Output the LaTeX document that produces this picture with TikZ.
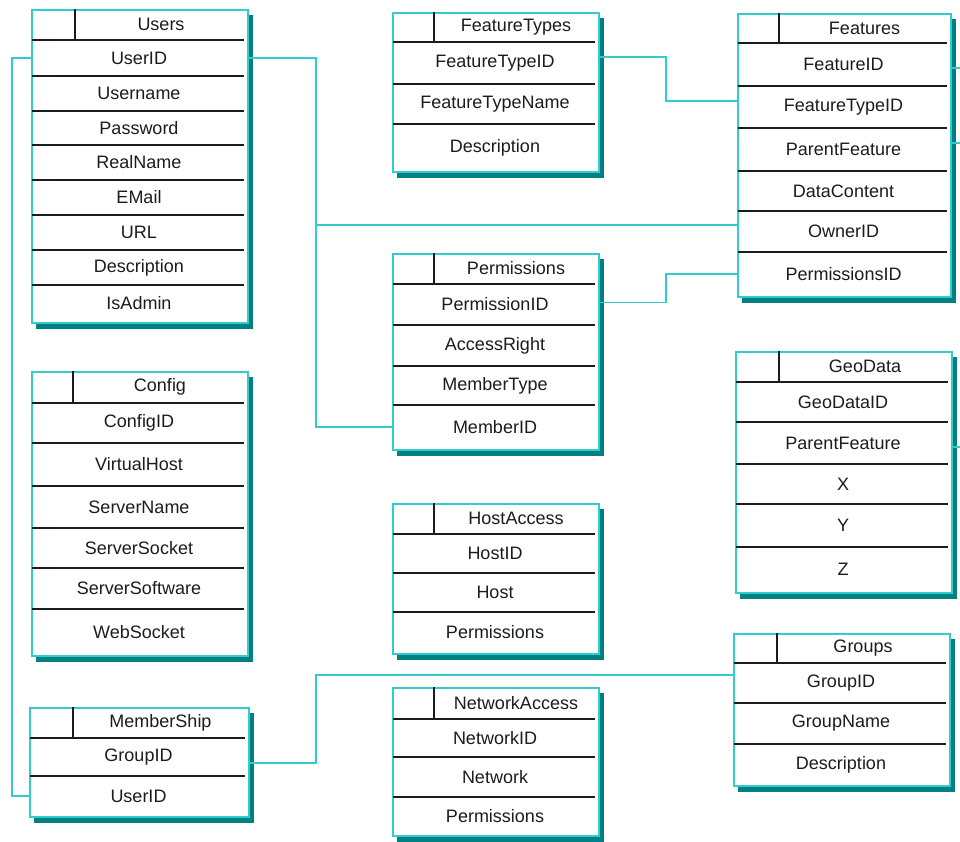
\documentclass[tikz,border=0pt]{standalone}
\usepackage{fontspec}
\setmainfont{Liberation Sans}
\definecolor{linkcyan}{RGB}{51,204,204}
\definecolor{shadeteal}{RGB}{0,128,128}
\definecolor{inkgray}{RGB}{28,28,28}
\tikzset{
  tableframe/.style={draw=linkcyan, line width=1.6pt, fill=white, inner sep=0pt, anchor=north west},
  rowrule/.style={draw=inkgray, line width=1.2pt},
  headtext/.style={inner sep=0pt, text=inkgray, font=\fontsize{18}{20}\selectfont},
  fieldtext/.style={inner sep=0pt, text=inkgray, font=\fontsize{18}{20}\selectfont},
  link/.style={draw=linkcyan, line width=1.8pt},
}
% #1 name, #2 left, #3 top, #4 right, #5 bottom, #6 header bottom,
% #7 header divider x, #8 title, #9 rows as top/bottom/field
\newcommand{\ertable}[9]{%
  \fill[shadeteal] (#2+5,#3+6) rectangle (#4+6,#5+7);
  \node[tableframe, minimum width={#4-#2}, minimum height={#5-#3}] (#1) at (#2,#3) {};
  \draw[rowrule] (#7,#3) -- (#7,#6);
  \node[headtext] (#1-h) at ({(#7+#4)/2},{(#3+#6)/2}) {#8};
  \foreach \ya/\yb/\txt [count=\i] in {#9} {
    \draw[rowrule] (#2+1,\ya) -- (#4-3,\ya);
    \node[fieldtext, minimum width={#4-#2}, minimum height={\yb-\ya}] (#1-\i)
      at ({(#2+#4)/2},{(\ya+\yb)/2}) {\txt};
  }
}
\begin{document}
\begin{tikzpicture}[x=1pt, y=-1pt]
\useasboundingbox (0,0) rectangle (960,841);
\fill[white] (0,0) rectangle (960,841);

% left column
\ertable{users}{31}{9}{247}{322}{40}{75}{Users}{40/76/UserID, 76/111/Username, 111/145/Password, 145/180/RealName, 180/215/EMail, 215/250/URL, 250/285/Description, 285/322/IsAdmin}
\ertable{config}{31}{371}{247}{655}{403}{73}{Config}{403/443/ConfigID, 443/486/VirtualHost, 486/528/ServerName, 528/568/ServerSocket, 568/609/ServerSoftware, 609/655/WebSocket}
\ertable{member}{29}{707}{248}{816}{738}{73}{MemberShip}{738/776/GroupID, 776/816/UserID}

% middle column
\ertable{ftypes}{392}{12}{598}{171}{42}{434}{FeatureTypes}{42/84/FeatureTypeID, 84/124/FeatureTypeName, 124/171/Description}
\ertable{perm}{392}{253}{598}{449}{284}{434}{Permissions}{284/325/PermissionID, 325/366/AccessRight, 366/405/MemberType, 405/449/MemberID}
\ertable{host}{392}{503}{598}{653}{534}{434}{HostAccess}{534/573/HostID, 573/612/Host, 612/653/Permissions}
\ertable{net}{392}{687}{598}{835}{719}{434}{NetworkAccess}{719/757/NetworkID, 757/797/Network, 797/835/Permissions}

% right column
\ertable{feat}{737}{13}{950}{296}{43}{779}{Features}{43/86/FeatureID, 86/128/FeatureTypeID, 128/171/ParentFeature, 171/211/DataContent, 211/252/OwnerID, 252/296/PermissionsID}
\ertable{geo}{735}{351}{951}{592}{382}{779}{GeoData}{382/422/GeoDataID, 422/464/ParentFeature, 464/504/X, 504/547/Y, 547/592/Z}
\ertable{groups}{733}{633}{949}{785}{663}{777}{Groups}{663/703/GroupID, 703/744/GroupName, 744/785/Description}

% relationships
\draw[link] (users-1.east) -- ++(69,0) coordinate (ujoin) |- (perm-4.west);
\draw[link] ([yshift=6.5pt]feat-5.west) -| (ujoin);
\draw[link] ([yshift=6pt]ftypes-1.east) -- ++(68,0) |- ([yshift=6pt]feat-2.west);
\draw[link] ([yshift=2pt]perm-1.east) -- ++(68,0) |- (feat-6.west);
\draw[link] (users-1.west) -- ++(-19,0) |- (member-2.west);
\draw[link] ([yshift=-6pt]member-1.east) -- ++(68,0) |- ([yshift=8pt]groups-1.west);

% references leaving to the right
\coordinate (outA) at (962,68);
\coordinate (outB) at (962,143);
\coordinate (outC) at (962,447);
\draw[link] ([yshift=-3.5pt]feat-1.east) -- (outA);
\draw[link] ([yshift=6.5pt]feat-3.east) -- (outB);
\draw[link] ([yshift=-4pt]geo-2.east) -- (outC);
\end{tikzpicture}
\end{document}
